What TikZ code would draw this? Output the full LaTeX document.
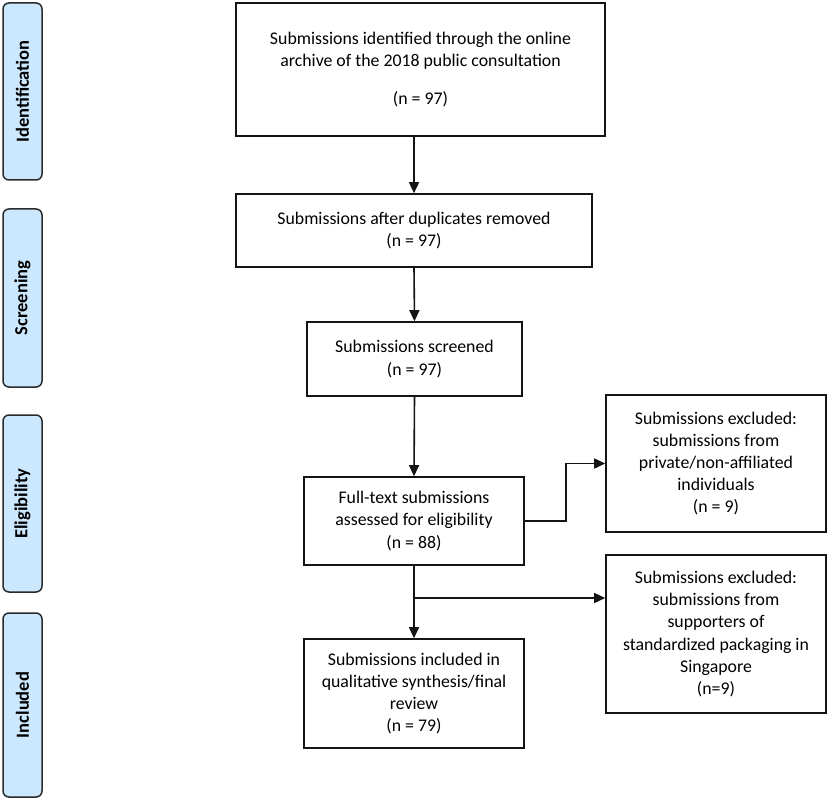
\documentclass[tikz,border=0pt]{standalone}
\usepackage{fontspec}
\setmainfont{Carlito}
\usetikzlibrary{arrows.meta}
\definecolor{labfill}{HTML}{CCE8FF}
\definecolor{labdraw}{HTML}{2A2A2A}
\definecolor{boxdraw}{HTML}{141414}
\begin{document}
\begin{tikzpicture}[x=1pt,y=-1pt,
  flowbox/.style={draw=boxdraw,line width=1.6pt,inner sep=0pt,align=center,
    font=\fontsize{17.8}{22.2}\selectfont},
  phase/.style={draw=labdraw,fill=labfill,line width=1.5pt,rounded corners=6pt,
    rotate=90,inner sep=0pt,minimum height=39pt,
    font=\fontsize{18.5}{22}\selectfont\bfseries},
  conn/.style={draw=boxdraw,line width=1.6pt,-{Triangle[length=11pt,width=10pt]}}]
\useasboundingbox (0,0) rectangle (829,799);
% phase labels
\node[phase,minimum width=177pt] (lid) at (22.5,91.5) {Identification};
\node[phase,minimum width=178pt] (lsc) at (22.5,298) {Screening};
\node[phase,minimum width=177pt] (lel) at (22.5,503.5) {Eligibility};
\node[phase,minimum width=184pt] (lin) at (22.5,705) {Included};
% boxes
\node[flowbox,minimum width=369pt,minimum height=133pt] (b1) at (420.5,69.5)
  {Submissions identified through the online\\archive of the 2018 public consultation\\[16pt](n = 97)};
\node[flowbox,minimum width=356pt,minimum height=73pt] (b2) at (414,230.5)
  {Submissions after duplicates removed\\(n = 97)};
\node[flowbox,minimum width=215pt,minimum height=74pt] (b3) at (414.5,359)
  {Submissions screened\\(n = 97)};
\node[flowbox,minimum width=220pt,minimum height=88pt] (b4) at (414,521)
  {Full-text submissions\\assessed for eligibility\\(n = 88)};
\node[flowbox,minimum width=220pt,minimum height=137pt] (b5) at (716,463.5)
  {Submissions excluded:\\submissions from\\private/non-affiliated\\individuals\\(n = 9)};
\node[flowbox,minimum width=220pt,minimum height=158pt] (b6) at (716,634)
  {Submissions excluded:\\submissions from\\supporters of\\standardized packaging in\\Singapore\\(n=9)};
\node[flowbox,minimum width=220pt,minimum height=109pt] (b7) at (414,693.5)
  {Submissions included in\\qualitative synthesis/final\\review\\(n = 79)};
% connectors
\draw[conn] (b1.south -| b2.north) -- (b2.north);
\draw[conn] (b2.south) -- (b3.north);
\draw[conn] (b3.south) -- (b4.north);
\coordinate (elb) at (566,521);
\draw[conn] (b4.east) -- (elb) |- (b5.west);
\draw[conn] (b4.south) -- (b7.north);
\coordinate (br) at (414,598);
\draw[conn] (br) -- (br -| b6.west);
\end{tikzpicture}
\end{document}
